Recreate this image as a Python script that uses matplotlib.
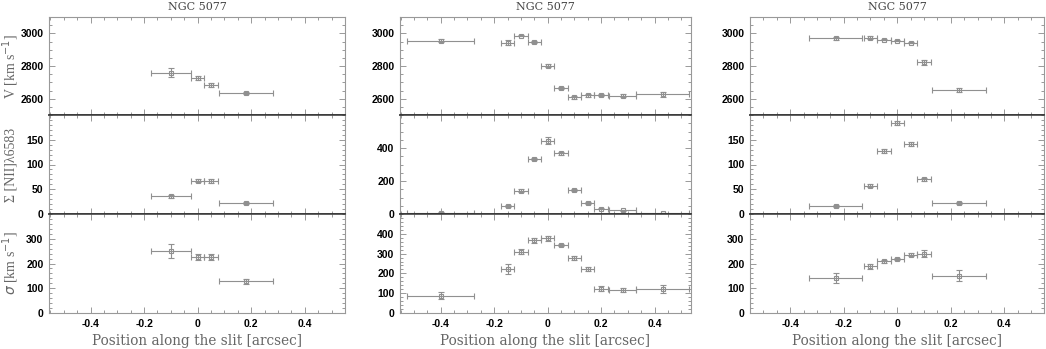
import matplotlib
matplotlib.use("Agg")
import matplotlib.pyplot as plt
from matplotlib.ticker import MultipleLocator, FixedLocator, FuncFormatter
from matplotlib.font_manager import FontProperties

# ---------------- data ----------------
# Panel 1
x1 = [-0.10, 0.00, 0.05, 0.18]
xe1 = [0.075, 0.025, 0.025, 0.10]
v1 = [2760, 2727, 2683, 2632]
ve1 = [27, 12, 14, 6]
s1 = [36, 67, 66, 22]
se1 = [3, 3, 4, 2]
d1 = [249, 227, 227, 129]
de1 = [28, 13, 13, 10]

# Panel 2
x2 = [-0.40, -0.15, -0.10, -0.05, 0.00, 0.05, 0.10, 0.15, 0.20, 0.28, 0.43]
xe2 = [0.125, 0.025, 0.025, 0.025, 0.025, 0.025, 0.025, 0.025, 0.025, 0.05, 0.10]
v2 = [2956, 2943, 2986, 2947, 2802, 2667, 2610, 2620, 2624, 2618, 2626]
ve2 = [10, 15, 5, 6, 8, 7, 9, 10, 7, 8, 15]
s2 = [9, 48, 141, 335, 444, 368, 145, 65, 32, 24, 6]
se2 = [4, 6, 8, 6, 20, 8, 4, 5, 4, 3, 2]
d2 = [87, 222, 310, 367, 378, 343, 277, 222, 123, 118, 120]
de2 = [17, 25, 13, 12, 12, 6, 10, 12, 12, 10, 20]

# Panel 3
x3 = [-0.23, -0.10, -0.05, 0.00, 0.05, 0.10, 0.23]
xe3 = [0.10, 0.025, 0.025, 0.025, 0.025, 0.025, 0.10]
v3 = [2970, 2974, 2962, 2956, 2943, 2822, 2651]
ve3 = [10, 10, 5, 5, 5, 15, 12]
s3 = [16, 57, 127, 184, 142, 70, 22]
se3 = [2, 3, 4, 4, 4, 3, 2]
d3 = [141, 189, 209, 219, 235, 239, 151]
de3 = [21, 10, 6, 5, 6, 14, 22]

title = "NGC 5077"
xlabel = "Position along the slit [arcsec]"
ylabels = [r"V [km s$^{-1}$]", "\u03a3 [NII]\u03bb6583", r"$\sigma$ [km s$^{-1}$]"]
xticks = [-0.4, -0.2, 0.0, 0.2, 0.4]

panels = [
    (x1, xe1, [(v1, ve1), (s1, se1), (d1, de1)]),
    (x2, xe2, [(v2, ve2), (s2, se2), (d2, de2)]),
    (x3, xe3, [(v3, ve3), (s3, se3), (d3, de3)]),
]

# ---------------- layout ----------------
W, H = 1046, 349
fig = plt.figure(figsize=(W / 100, H / 100), dpi=100)

cols = [(49, 345, (-0.555, 0.55)), (400, 690.7, (-0.552, 0.535)), (750, 1044, (-0.55, 0.548))]
rows = [(17, 115), (115, 214), (214, 313)]

ylims = [
    [(2500, 3100), (0, 200), (0, 400)],
    [(2500, 3100), (0, 600), (0, 500)],
    [(2500, 3100), (0, 200), (0, 400)],
]
ymaj = [
    [[2600, 2800, 3000], [0, 50, 100, 150], [0, 100, 200, 300]],
    [[2600, 2800, 3000], [0, 200, 400], [0, 100, 200, 300, 400]],
    [[2600, 2800, 3000], [0, 50, 100, 150], [0, 100, 200, 300]],
]
ymin = [
    [50, 10, 20],
    [50, 50, 20],
    [50, 10, 20],
]

gray = "#909090"
spine_gray = "#999999"
tick_fp = FontProperties(family="Liberation Sans", size=7.5, weight="bold")

def xfmt(v, pos):
    if abs(v) < 1e-9:
        return "0"
    return f"{v:.1f}"

for ci, (xl, xr, xlim) in enumerate(cols):
    xs, xes, series = panels[ci]
    for ri, (yt, yb) in enumerate(rows):
        ax = fig.add_axes([xl / W, 1 - yb / H, (xr - xl) / W, (yb - yt) / H])
        ys, yes = series[ri]
        ax.errorbar(xs, ys, xerr=xes, yerr=yes, fmt="s", ms=3.2, mfc="none",
                    mec=gray, mew=0.8, ecolor=gray, elinewidth=0.8,
                    capsize=2, capthick=0.8, color=gray)
        ax.set_xlim(*xlim)
        ax.set_ylim(*ylims[ci][ri])
        ax.xaxis.set_major_locator(FixedLocator(xticks))
        ax.xaxis.set_minor_locator(MultipleLocator(0.05))
        ax.yaxis.set_major_locator(FixedLocator(ymaj[ci][ri]))
        ax.yaxis.set_minor_locator(MultipleLocator(ymin[ci][ri]))
        ax.tick_params(which="both", direction="in", top=True, right=True,
                       colors=spine_gray, labelcolor="black", width=0.7)
        ax.tick_params(which="major", length=4.5)
        ax.tick_params(which="minor", length=2.5)
        for sp in ax.spines.values():
            sp.set_color(spine_gray)
            sp.set_linewidth(0.8)
        if ri > 0:
            ax.spines["top"].set_color("#333333")
            ax.spines["top"].set_linewidth(1.1)
        if ri < 2:
            ax.spines["bottom"].set_color("#333333")
            ax.spines["bottom"].set_linewidth(1.1)
        for lab in ax.get_yticklabels():
            lab.set_fontproperties(tick_fp)
        ax.tick_params(axis="y", pad=4)
        if ri == 2:
            ax.xaxis.set_major_formatter(FuncFormatter(xfmt))
            for lab in ax.get_xticklabels():
                lab.set_fontproperties(tick_fp)
            ax.tick_params(axis="x", pad=4)
            ax.set_xlabel(xlabel, family="DejaVu Serif", fontsize=9.8,
                          color="#666666", labelpad=4)
        else:
            ax.tick_params(axis="x", labelbottom=False)
        if ri == 0:
            ax.set_title(title, family="DejaVu Serif", fontsize=8,
                         color="#444444", pad=5)
        if ci == 0:
            ax.set_ylabel(ylabels[ri], family="Liberation Serif", fontsize=10,
                          color="#666666")
            ax.yaxis.label.set_va("center")
            ax.yaxis.set_label_coords(-0.128, 0.5)

fig.savefig("out.png", dpi=100)
